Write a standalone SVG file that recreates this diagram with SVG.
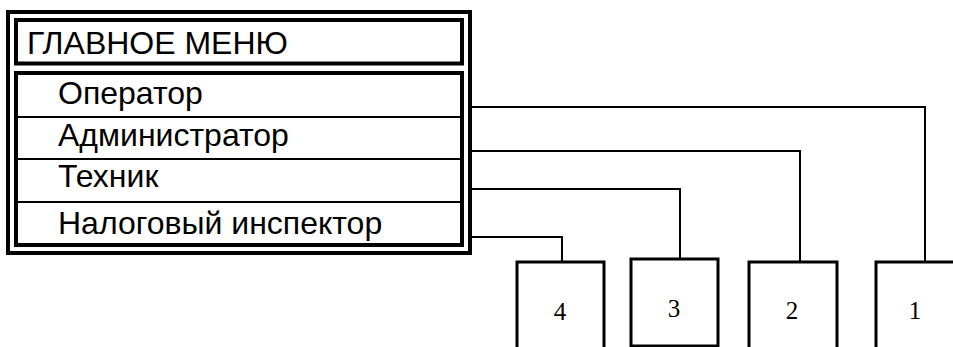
<svg xmlns="http://www.w3.org/2000/svg" width="953" height="347" viewBox="0 0 953 347">
<style>
.thick{fill:none;stroke:#000;stroke-width:4}
.row{stroke:#000;stroke-width:2}
.box{fill:#fff;stroke:#000;stroke-width:3}
.con{fill:none;stroke:#000;stroke-width:2}
.mt{font-family:"Liberation Sans",Arial,sans-serif;font-size:32px;fill:#000}
.num{font-family:"Liberation Serif","Times New Roman",serif;font-size:25px;fill:#000;text-anchor:middle}
</style>
<rect width="953" height="347" fill="#fff"/>
<g id="menu">
<rect class="thick" x="8" y="12" width="462" height="241"/>
<rect class="thick" x="16" y="20" width="446" height="43.5"/>
<rect class="thick" x="16" y="73" width="446" height="172"/>
<line class="row" x1="16" y1="117" x2="462" y2="117"/>
<line class="row" x1="16" y1="159" x2="462" y2="159"/>
<line class="row" x1="16" y1="202" x2="462" y2="202"/>
<text class="mt" x="27" y="54">ГЛАВНОЕ МЕНЮ</text>
<text class="mt" x="58" y="104">Оператор</text>
<text class="mt" x="58" y="146">Администратор</text>
<text class="mt" x="58" y="187">Техник</text>
<text class="mt" x="58" y="234">Налоговый инспектор</text>
</g>
<g id="connectors">
<polyline class="con" points="472,107 925,107 925,262"/>
<polyline class="con" points="472,151 800,151 800,262"/>
<polyline class="con" points="472,189 680,189 680,259"/>
<polyline class="con" points="472,237 562,237 562,262"/>
</g>
<g id="box4">
<path class="box" d="M517,350 V262 H604 V350"/>
<text class="num" x="560" y="320">4</text>
</g>
<g id="box3">
<rect class="box" x="631" y="259" width="87" height="87"/>
<text class="num" x="674" y="317">3</text>
</g>
<g id="box2">
<path class="box" d="M749,350 V262 H837 V350"/>
<text class="num" x="792" y="319">2</text>
</g>
<g id="box1">
<path class="box" d="M876,350 V262 H960"/>
<text class="num" x="915" y="319">1</text>
</g>
</svg>
